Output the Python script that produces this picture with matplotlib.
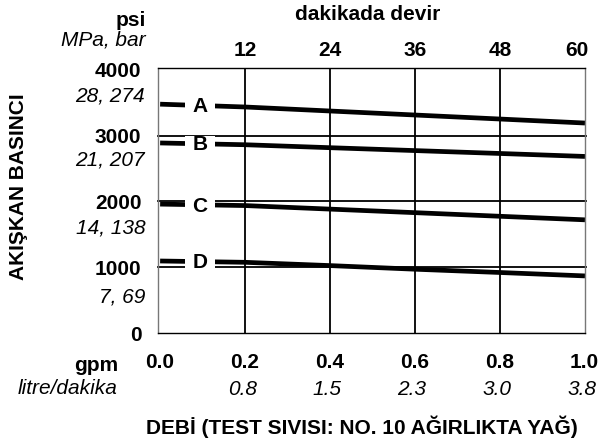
import matplotlib
matplotlib.use("Agg")
import matplotlib.pyplot as plt
from matplotlib.patches import Rectangle
import matplotlib.transforms as mtransforms

plt.rcParams['font.family'] = ['Liberation Sans', 'DejaVu Sans']

# ---- data ----
flow_gpm = [0.0, 0.2, 0.4, 0.6, 0.8, 1.0]
series_labels = ["A", "B", "C", "D"]
pressure_A = [3480, 3437, 3376, 3315, 3254, 3193]
pressure_B = [2890, 2863, 2818, 2774, 2730, 2685]
pressure_C = [1960, 1938, 1884, 1830, 1775, 1721]
pressure_D = [1095, 1075, 1025, 970, 920, 868]

psi_ticks = [0, 1000, 2000, 3000, 4000]
mpa_bar_labels = ["7, 69", "14, 138", "21, 207", "28, 274"]
mpa_bar_pos = [550, 1600, 2630, 3600]
gpm_ticks = [0.0, 0.2, 0.4, 0.6, 0.8, 1.0]
lpm_labels = ["0.8", "1.5", "2.3", "3.0", "3.8"]
rpm_labels = ["12", "24", "36", "48", "60"]
rpm_pos = [0.2, 0.4, 0.6, 0.8, 0.98]

W, H = 598, 444
fig = plt.figure(figsize=(W / 100, H / 100), dpi=100)
ax = fig.add_axes([158 / W, (H - 333) / H, 427 / W, 265 / H])
ax.set_xlim(-0.005, 1.0)
ax.set_ylim(0, 4030)

FS = 15

# grid lines
for v in [1000, 2000, 3000]:
    ax.axhline(v, color='black', lw=1.3, zorder=1, xmax=1.003, clip_on=False)
for v in [0.2, 0.4, 0.6, 0.8]:
    ax.axvline(v, color='black', lw=1.3, zorder=1)

all_series = [pressure_A, pressure_B, pressure_C, pressure_D]
for lab, ys in zip(series_labels, all_series):
    ax.plot(flow_gpm, ys, color='black', lw=3.4, solid_capstyle='butt', zorder=2)
    # white gap for the curve label
    ax.add_patch(Rectangle((0.058, ys[0] - 105), 0.072, 210, facecolor='white',
                           edgecolor='none', zorder=3))
    ax.text(0.094, ys[0] - 30, lab, ha='center', va='center', fontsize=FS,
            fontweight='bold', zorder=4)

for s in ['left', 'right']:
    ax.spines[s].set_color('#777777')
    ax.spines[s].set_linewidth(1.0)
for s in ['top', 'bottom']:
    ax.spines[s].set_color('black')
    ax.spines[s].set_linewidth(1.0)

ax.set_yticks(psi_ticks)
ax.set_yticklabels([str(t) for t in psi_ticks], fontsize=FS, fontweight='bold')
ax.tick_params(axis='y', length=0, pad=12)
ax.set_xticks([])

# italic MPa, bar labels
ytr = mtransforms.blended_transform_factory(ax.transAxes, ax.transData)
for lab, p in zip(mpa_bar_labels, mpa_bar_pos):
    ax.text(-0.03, p, lab, transform=ytr, ha='right', va='center',
            fontsize=FS, fontstyle='italic')

# bottom labels
xtr = mtransforms.blended_transform_factory(ax.transData, fig.transFigure)
for g in gpm_ticks:
    if g == 1.0:
        fig.text(599 / W, 1 - 362 / H, f"{g:.1f}", ha='right', va='center',
                 fontsize=FS, fontweight='bold')
    else:
        ax.text(g, 1 - 362 / H, f"{g:.1f}", transform=xtr, ha='center', va='center',
                fontsize=FS, fontweight='bold')
for g, lab in zip(gpm_ticks[1:], lpm_labels):
    ax.text(g - 0.007, 1 - 389 / H, lab, transform=xtr, ha='center', va='center',
            fontsize=FS, fontstyle='italic')

# top labels
for p, lab in zip(rpm_pos, rpm_labels):
    ax.text(p, 1 - 50 / H, lab, transform=xtr, ha='center', va='center',
            fontsize=FS, fontweight='bold')

fig.text(368 / W, 1 - 15 / H, "dakikada devir", ha='center', va='center',
         fontsize=FS, fontweight='bold')
fig.text(146 / W, 1 - 20 / H, "psi", ha='right', va='center',
         fontsize=FS, fontweight='bold')
fig.text(146 / W, 1 - 40 / H, "MPa, bar", ha='right', va='center',
         fontsize=FS, fontstyle='italic')
fig.text(118 / W, 1 - 365 / H, "gpm", ha='right', va='center',
         fontsize=FS, fontweight='bold')
fig.text(118 / W, 1 - 388 / H, "litre/dakika", ha='right', va='center',
         fontsize=FS, fontstyle='italic')
fig.text(19 / W, 1 - 187 / H, "AKIŞKAN BASINCI", ha='center', va='center',
         rotation=90, fontsize=FS, fontweight='bold')
fig.text(362 / W, 1 - 427 / H, "DEBİ (TEST SIVISI: NO. 10 AĞIRLIKTA YAĞ)",
         ha='center', va='center', fontsize=FS, fontweight='bold')

fig.savefig("out.png", dpi=100)
